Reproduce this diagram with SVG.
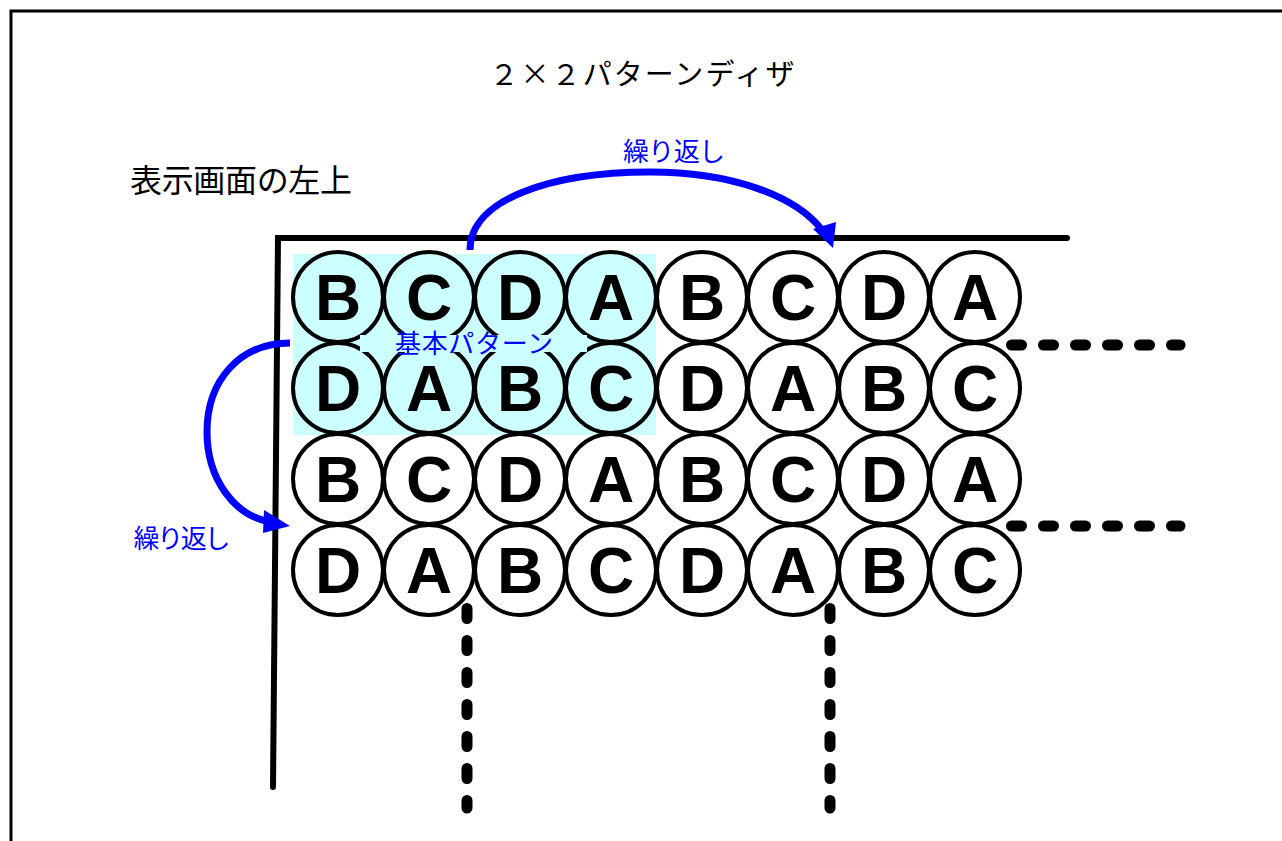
<svg xmlns="http://www.w3.org/2000/svg" width="1282" height="841" viewBox="0 0 1282 841">
<style>
.c{fill:none;stroke:#000;stroke-width:4}
.l{font-family:"Liberation Sans",Arial,sans-serif;font-weight:bold;font-size:64px;text-anchor:middle;fill:#000}
.j{font-family:"Noto Sans CJK JP","Noto Sans",sans-serif}
.blue{fill:#0000ff}
.dash{stroke:#000;stroke-width:11;stroke-linecap:round;stroke-dasharray:10 22;fill:none}
.arr{fill:none;stroke:#0000ff;stroke-width:7}
</style>
<rect width="1282" height="841" fill="#fff"/>
<rect x="11" y="11" width="1290" height="850" fill="none" stroke="#000" stroke-width="3"/>
<text class="j" x="642" y="85" font-size="29" text-anchor="middle" textLength="305" lengthAdjust="spacing">２×２パターンディザ</text>
<text class="j" x="130" y="192" font-size="32" textLength="222" lengthAdjust="spacing">表示画面の左上</text>
<rect x="293" y="254" width="363" height="181" fill="#ccffff"/>
<g id="screen">
<path d="M273 787 L278 238 L1067 238" fill="none" stroke="#000" stroke-width="6" stroke-linecap="round"/>
</g>
<g id="cells">
<g id="r1">
<circle class="c" cx="338" cy="297" r="45"/><text class="l" x="338" y="320">B</text>
<circle class="c" cx="429" cy="297" r="45"/><text class="l" x="429" y="320">C</text>
<circle class="c" cx="520" cy="297" r="45"/><text class="l" x="520" y="320">D</text>
<circle class="c" cx="611" cy="297" r="45"/><text class="l" x="611" y="320">A</text>
<circle class="c" cx="702" cy="297" r="45"/><text class="l" x="702" y="320">B</text>
<circle class="c" cx="793" cy="297" r="45"/><text class="l" x="793" y="320">C</text>
<circle class="c" cx="884" cy="297" r="45"/><text class="l" x="884" y="320">D</text>
<circle class="c" cx="975" cy="297" r="45"/><text class="l" x="975" y="320">A</text>
</g>
<g id="r2">
<circle class="c" cx="338" cy="388" r="45"/><text class="l" x="338" y="411">D</text>
<circle class="c" cx="429" cy="388" r="45"/><text class="l" x="429" y="411">A</text>
<circle class="c" cx="520" cy="388" r="45"/><text class="l" x="520" y="411">B</text>
<circle class="c" cx="611" cy="388" r="45"/><text class="l" x="611" y="411">C</text>
<circle class="c" cx="702" cy="388" r="45"/><text class="l" x="702" y="411">D</text>
<circle class="c" cx="793" cy="388" r="45"/><text class="l" x="793" y="411">A</text>
<circle class="c" cx="884" cy="388" r="45"/><text class="l" x="884" y="411">B</text>
<circle class="c" cx="975" cy="388" r="45"/><text class="l" x="975" y="411">C</text>
</g>
<g id="r3">
<circle class="c" cx="338" cy="479" r="45"/><text class="l" x="338" y="502">B</text>
<circle class="c" cx="429" cy="479" r="45"/><text class="l" x="429" y="502">C</text>
<circle class="c" cx="520" cy="479" r="45"/><text class="l" x="520" y="502">D</text>
<circle class="c" cx="611" cy="479" r="45"/><text class="l" x="611" y="502">A</text>
<circle class="c" cx="702" cy="479" r="45"/><text class="l" x="702" y="502">B</text>
<circle class="c" cx="793" cy="479" r="45"/><text class="l" x="793" y="502">C</text>
<circle class="c" cx="884" cy="479" r="45"/><text class="l" x="884" y="502">D</text>
<circle class="c" cx="975" cy="479" r="45"/><text class="l" x="975" y="502">A</text>
</g>
<g id="r4">
<circle class="c" cx="338" cy="570" r="45"/><text class="l" x="338" y="593">D</text>
<circle class="c" cx="429" cy="570" r="45"/><text class="l" x="429" y="593">A</text>
<circle class="c" cx="520" cy="570" r="45"/><text class="l" x="520" y="593">B</text>
<circle class="c" cx="611" cy="570" r="45"/><text class="l" x="611" y="593">C</text>
<circle class="c" cx="702" cy="570" r="45"/><text class="l" x="702" y="593">D</text>
<circle class="c" cx="793" cy="570" r="45"/><text class="l" x="793" y="593">A</text>
<circle class="c" cx="884" cy="570" r="45"/><text class="l" x="884" y="593">B</text>
<circle class="c" cx="975" cy="570" r="45"/><text class="l" x="975" y="593">C</text>
</g>
</g>
<g id="pattern-label">
<rect x="360" y="335" width="227" height="17" fill="#ccffff"/>
<text class="j blue" x="474" y="353" font-size="26" text-anchor="middle" textLength="158" lengthAdjust="spacing">基本パターン</text>
</g>
<g id="continuations">
<line class="dash" x1="1011.5" y1="345" x2="1180" y2="345"/>
<line class="dash" x1="1011.5" y1="526" x2="1180" y2="526"/>
<line class="dash" x1="467" y1="608.5" x2="467" y2="808"/>
<line class="dash" x1="830" y1="608.5" x2="830" y2="808"/>
</g>
<g id="connectors">
<path class="arr" d="M470 250 C470 200 550 172 650 172 C730 172 795 195 822 230"/>
<polygon class="blue" points="813,229 836,222 833,248"/>
<path class="arr" d="M290 343 C240 343 207 380 207 432 C207 480 235 514 266 521"/>
<polygon class="blue" points="264,510 263,533 290,526"/>
</g>
<text class="j blue" x="674" y="161" font-size="26" text-anchor="middle" textLength="102" lengthAdjust="spacing">繰り返し</text>
<text class="j blue" x="182" y="548" font-size="26" text-anchor="middle" textLength="97" lengthAdjust="spacing">繰り返し</text>
</svg>
